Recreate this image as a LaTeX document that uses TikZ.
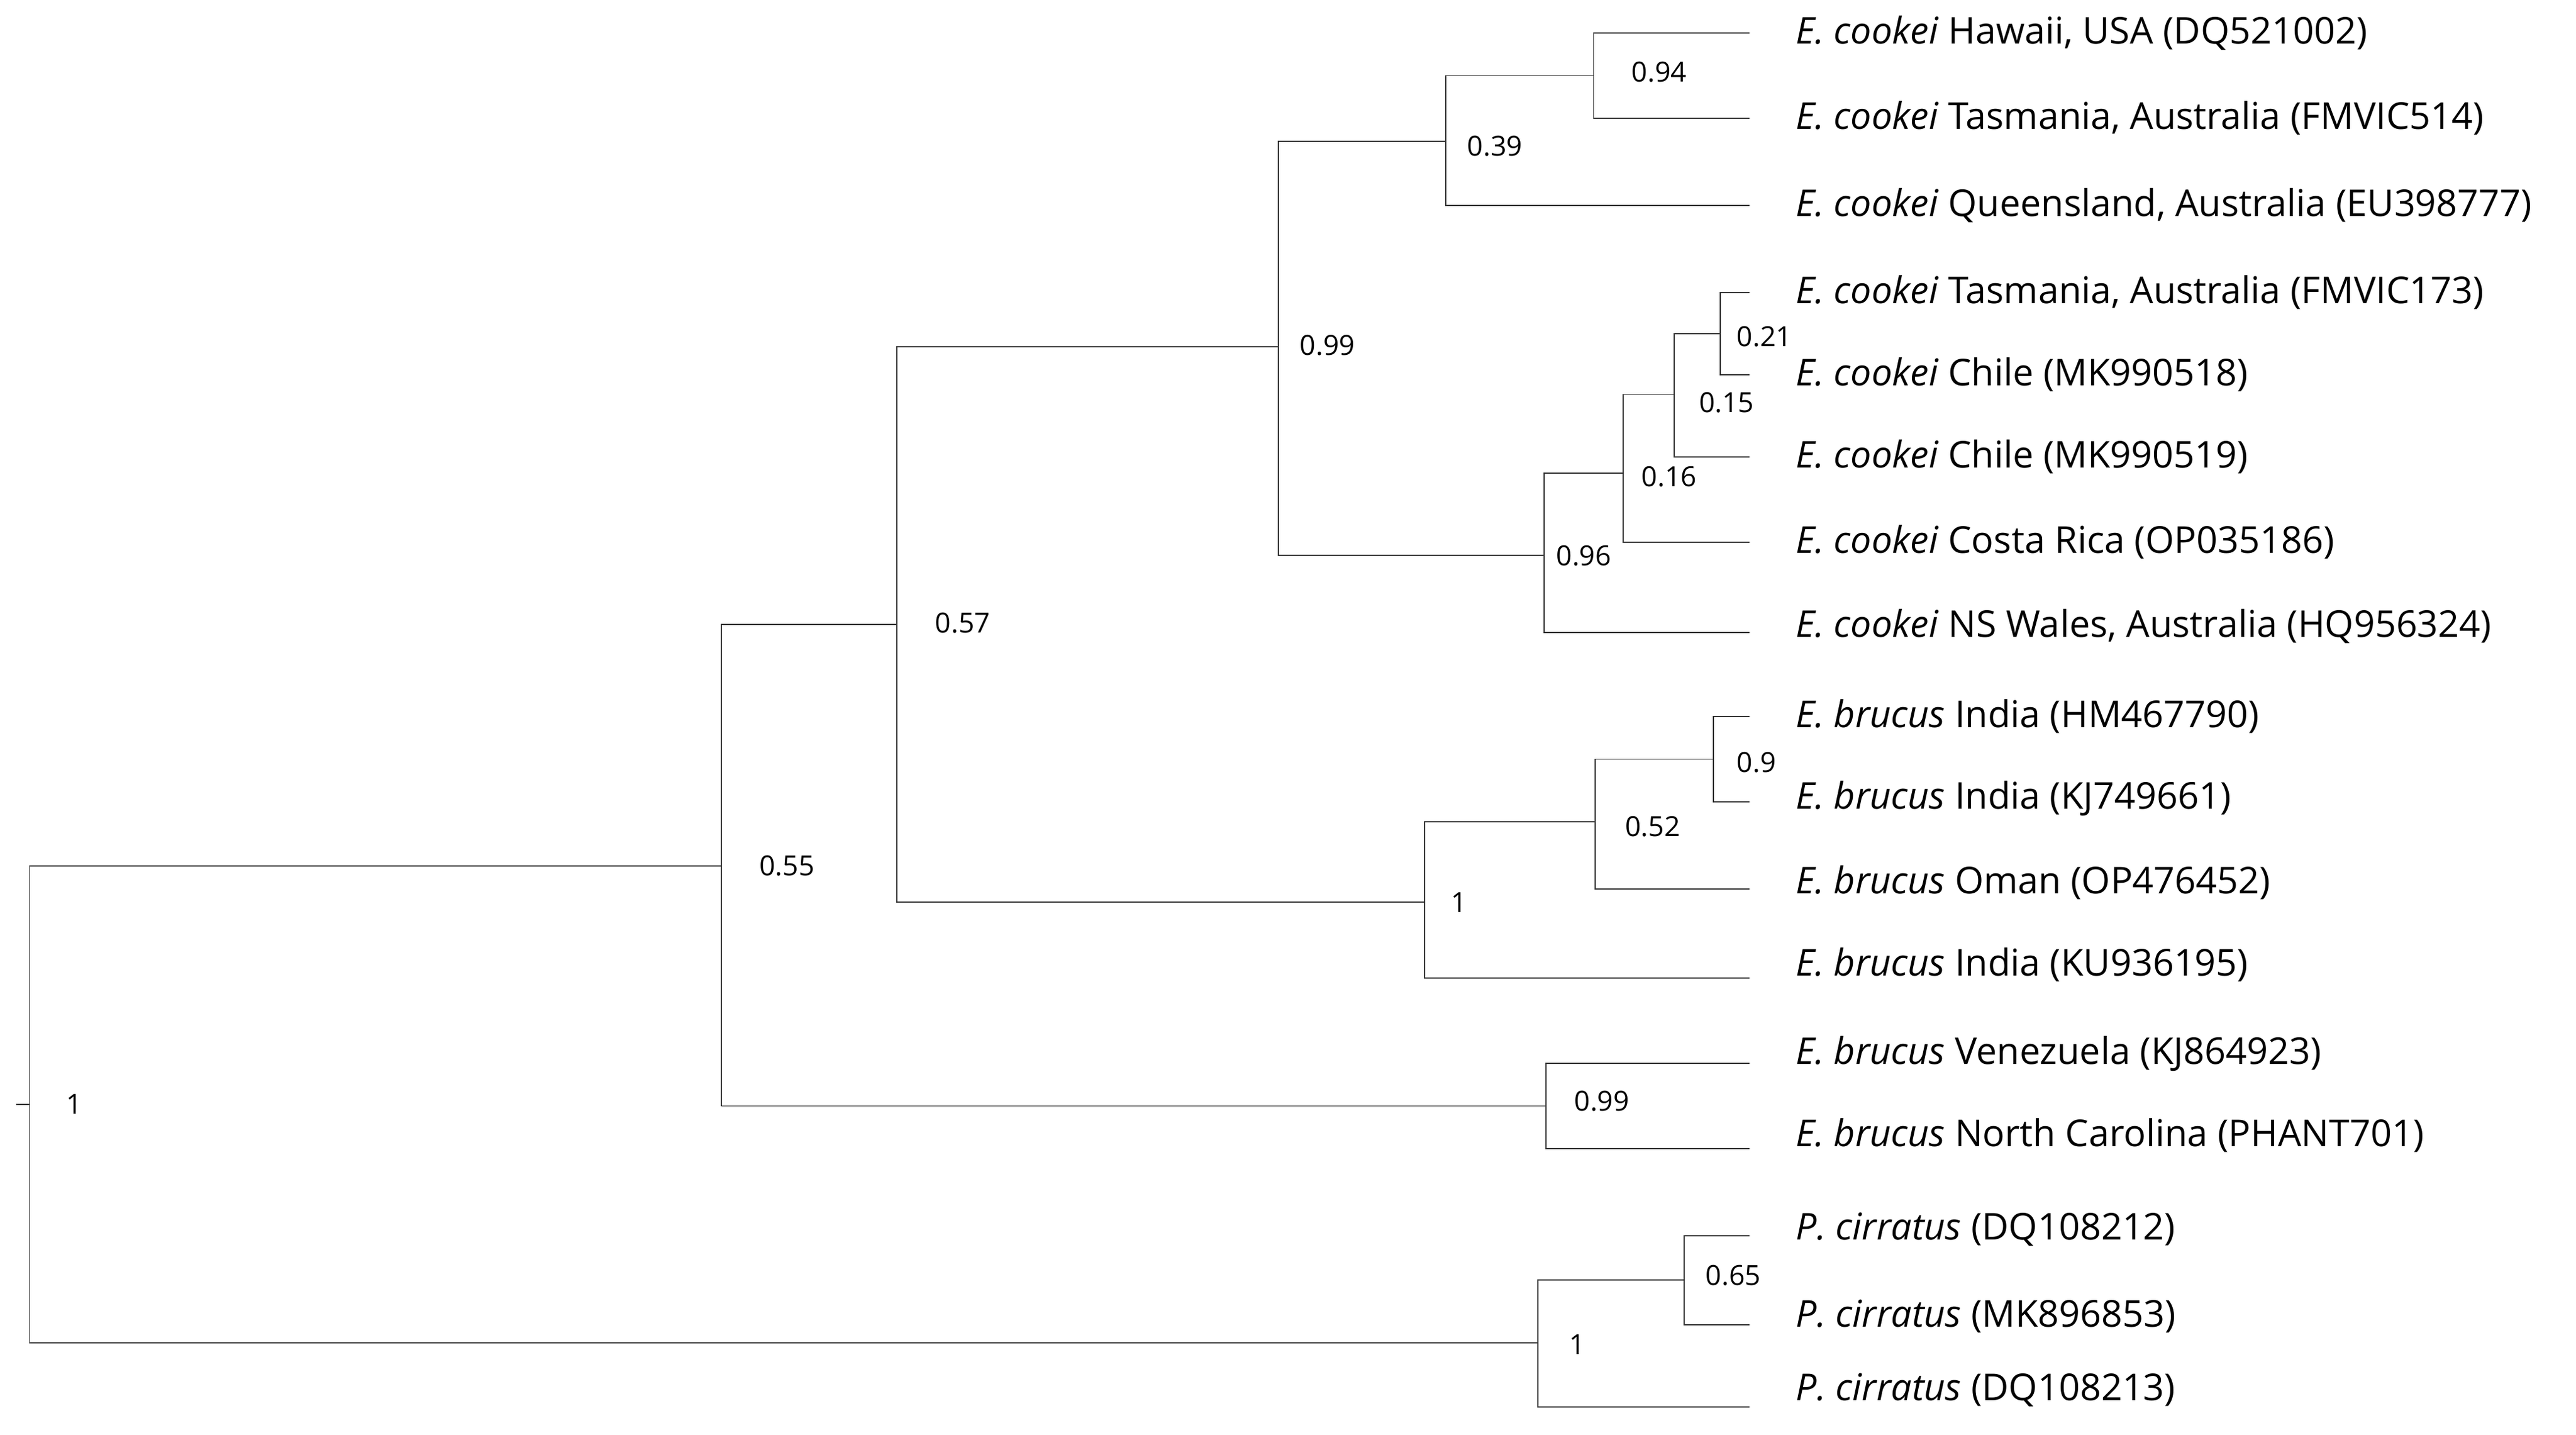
\documentclass[tikz,border=0pt]{standalone}
\usepackage{fontspec}
\setmainfont{Open Sans}
\tikzset{
  every node/.style = {font = \fontsize{16}{18}\selectfont},
  branch/.style = {line width=0.5pt, black!80},
  leaf/.style = {anchor=west, inner sep=0pt},
  supp/.style = {anchor=west, inner sep=0pt, font=\fontsize{12}{14}\selectfont}
}
\newcommand{\Ec}{\textit{E. cookei}}
\newcommand{\Eb}{\textit{E. brucus}}
\newcommand{\Pc}{\textit{P. cirratus}}

\begin{document}
\begin{tikzpicture}[x=0.25mm,y=-0.25mm]
\useasboundingbox (0,0) rectangle (1568,873);

% Leaves
\def\xl{1065}
\foreach \i/\y in {1/20,2/72,3/125,4/178,5/228,6/278,7/330,8/385,9/436,
  10/488,11/541,12/595,13/647,14/699,15/752,16/806,17/856}
  \coordinate (L\i) at (\xl,\y);

% Internal nodes
\coordinate (N12) at (970,46);
\coordinate (N123) at (880,86);
\coordinate (N45) at (1047,203);
\coordinate (N456) at (1019,240);
\coordinate (N4567) at (988,288);
\coordinate (N48) at (940,338);
\coordinate (NC) at (778,211);
\coordinate (N910) at (1043,462);
\coordinate (N911) at (971,500);
\coordinate (NB) at (867,549);
\coordinate (NCB) at (546,380);
\coordinate (NVN) at (941,673);
\coordinate (NE) at (439,527);
\coordinate (N1516) at (1025,779);
\coordinate (NP) at (936,817);
\coordinate (R) at (18,672);
\coordinate (S) at (10,672);

% Branches
\foreach \p/\c in {N12/L1,N12/L2,N123/N12,N123/L3,
  N45/L4,N45/L5,N456/N45,N456/L6,N4567/N456,N4567/L7,N48/N4567,N48/L8,
  NC/N123,NC/N48,N910/L9,N910/L10,N911/N910,N911/L11,NB/N911,NB/L12,
  NCB/NC,NCB/NB,NVN/L13,NVN/L14,NE/NCB,NE/NVN,
  N1516/L15,N1516/L16,NP/N1516,NP/L17,R/NE,R/NP}
  \draw[branch] (\p) |- (\c);
\draw[branch] (S) -- (R);

% Support values
\node[supp] (s1) at (993,44) {0.94};
\node[supp] (s2) at (893,89) {0.39};
\node[supp] (s3) at (1057,205) {0.21};
\node[supp] (s4) at (1034,245) {0.15};
\node[supp] (s5) at (999,290) {0.16};
\node[supp] (s6) at (947,338) {0.96};
\node[supp] (s7) at (791,210) {0.99};
\node[supp] (s8) at (1057,464) {0.9};
\node[supp] (s9) at (989,503) {0.52};
\node[supp] (s10) at (883,549) {1};
\node[supp] (s11) at (569,379) {0.57};
\node[supp] (s12) at (958,670) {0.99};
\node[supp] (s13) at (462,527) {0.55};
\node[supp] (s14) at (1038,776) {0.65};
\node[supp] (s15) at (955,818) {1};
\node[supp] (s16) at (40,672) {1};

% Leaf labels
\def\xt{1093}
\node[leaf] (t1) at (\xt,20) {\Ec{} Hawaii, USA (DQ521002)};
\node[leaf] (t2) at (\xt,72) {\Ec{} Tasmania, Australia (FMVIC514)};
\node[leaf] (t3) at (\xt,125) {\Ec{} Queensland, Australia (EU398777)};
\node[leaf] (t4) at (\xt,178) {\Ec{} Tasmania, Australia (FMVIC173)};
\node[leaf] (t5) at (\xt,228) {\Ec{} Chile (MK990518)};
\node[leaf] (t6) at (\xt,278) {\Ec{} Chile (MK990519)};
\node[leaf] (t7) at (\xt,330) {\Ec{} Costa Rica (OP035186)};
\node[leaf] (t8) at (\xt,381) {\Ec{} NS Wales, Australia (HQ956324)};
\node[leaf] (t9) at (\xt,436) {\Eb{} India (HM467790)};
\node[leaf] (t10) at (\xt,486) {\Eb{} India (KJ749661)};
\node[leaf] (t11) at (\xt,537) {\Eb{} Oman (OP476452)};
\node[leaf] (t12) at (\xt,587) {\Eb{} India (KU936195)};
\node[leaf] (t13) at (\xt,641) {\Eb{} Venezuela (KJ864923)};
\node[leaf] (t14) at (\xt,691) {\Eb{} North Carolina (PHANT701)};
\node[leaf] (t15) at (\xt,748) {\Pc{} (DQ108212)};
\node[leaf] (t16) at (\xt,801) {\Pc{} (MK896853)};
\node[leaf] (t17) at (\xt,846) {\Pc{} (DQ108213)};
\end{tikzpicture}
\end{document}
